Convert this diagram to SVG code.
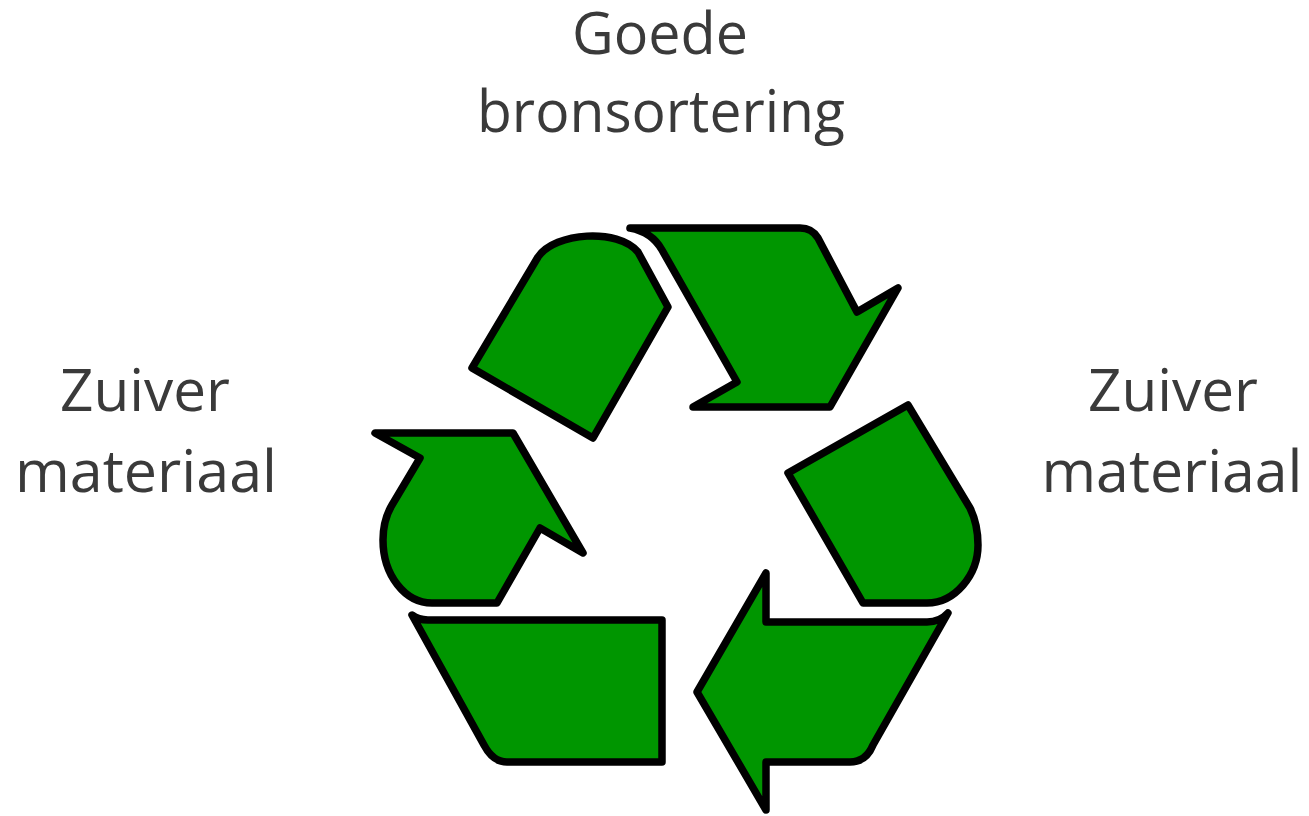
<svg xmlns="http://www.w3.org/2000/svg" width="1309" height="816" viewBox="0 0 1309 816">
<style>
.seg{fill:#009600;stroke:#000;stroke-width:7.5;stroke-linejoin:round;stroke-linecap:round}
.lbl{font-family:"Open Sans","Liberation Sans",sans-serif;font-size:59px;fill:#3a3a3a;text-anchor:middle}
</style>
<rect width="1309" height="816" fill="#fff"/>
<g id="symbol">
<g id="top-tail"><path class="seg" d="M472,368 L538,257 C555,232 618,228 638,252 L668,307 L593,438 Z"/></g>
<g id="top-arrow"><path class="seg" d="M630,228 L800,228 Q812,228 818,238 L857,312 L898,288 L830,407 L693,407 L737,382 L662,250 Q652,232 630,228 Z"/></g>
<g id="right-tail"><path class="seg" d="M908,405 L788,473 L863,603 L927,603 C955,603 978,575 978,545 C978,530 975,518 970,508 Z"/></g>
<g id="bottom-arrow"><path class="seg" d="M697,692 L766,573 L766,622 L927,622 Q940,622 948,613 L873,745 Q866,762 850,762 L766,762 L766,810 Z"/></g>
<g id="bottom-tail"><path class="seg" d="M412,615 Q418,620 428,620 L662,620 L662,762 L507,762 Q493,762 484,745 Z"/></g>
<g id="left-arrow"><path class="seg" d="M375,433 L513,433 L583,553 L540,528 L497,603 L432,603 C405,603 383,575 383,540 C383,525 386,515 392,505 L420,458 Z"/></g>
</g>
<g id="label-top">
<text class="lbl" x="660" y="54" textLength="176" lengthAdjust="spacingAndGlyphs">Goede</text>
<text class="lbl" x="661" y="132" textLength="368" lengthAdjust="spacingAndGlyphs">bronsortering</text>
</g>
<g id="label-left">
<text class="lbl" x="145" y="411" textLength="170" lengthAdjust="spacingAndGlyphs">Zuiver</text>
<text class="lbl" x="146" y="492" textLength="262" lengthAdjust="spacingAndGlyphs">materiaal</text>
</g>
<g id="label-right">
<text class="lbl" x="1173" y="411" textLength="170" lengthAdjust="spacingAndGlyphs">Zuiver</text>
<text class="lbl" x="1172" y="492" textLength="261" lengthAdjust="spacingAndGlyphs">materiaal</text>
</g>
</svg>
